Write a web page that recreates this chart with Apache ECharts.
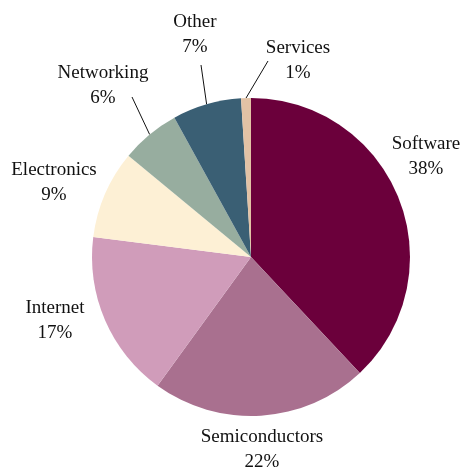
<!DOCTYPE html>
<html><head><meta charset="utf-8">
<script src="https://cdn.jsdelivr.net/npm/echarts@6/dist/echarts.min.js"></script>
<style>html,body{margin:0;padding:0;background:#fff}#c{width:467px;height:471px}</style>
</head><body><div id="c"></div>
<script>
const categories = ['Software','Semiconductors','Internet','Electronics','Networking','Other','Services'];
const values = [38, 22, 17, 9, 6, 7, 1];
const colors = ['#6b003b','#a9708f','#d09cba','#fdf0d5','#97ad9f','#3a5f74','#e2c2a5'];
const withLine = [false,false,false,false,true,true,true];

// label layout (pixel offsets from pie centre / from label centre) – presentation only
const CX = 251, CY = 257, R = 159;
const labelOffset = [[175,-100],[11,193],[-196,64],[-197,-74],[-148,-171],[-56,-222],[47,-196]];
const lineEndOffset = [null,null,null,null,[29,11],[6,30],[-30,0]];

const total = values.reduce((a,b)=>a+b,0);
const mids = []; let acc = 0;
values.forEach(v => { mids.push(Math.PI/2 - 2*Math.PI*(acc + v/2)/total); acc += v; });

const chart = echarts.init(document.getElementById('c'));
chart.setOption({
  animation:false,
  series:[{
    type:'pie',
    center:[CX,CY], radius:R,
    startAngle:90, clockwise:true,
    avoidLabelOverlap:false,
    data: categories.map((c,i)=>({name:c, value:values[i], itemStyle:{color:colors[i]},
      labelLine:{show:withLine[i]}})),
    label:{show:true, position:'outside', formatter:p=>p.name+'\n'+p.value+'%',
      fontFamily:'Liberation Serif', fontSize:19, lineHeight:25, color:'#111'},
    labelLine:{lineStyle:{color:'#111', width:1}, length:40, length2:0},
    emphasis:{disabled:true},
    labelLayout: function(p){
      const i = p.dataIndex, m = mids[i];
      const lx = CX + labelOffset[i][0], ly = CY + labelOffset[i][1];
      const out = {x: lx, y: ly, align:'center', verticalAlign:'middle'};
      if (withLine[i]) {
        const sx = CX + R*Math.cos(m), sy = CY - R*Math.sin(m);
        out.labelLinePoints = [[sx,sy],[lx+lineEndOffset[i][0], ly+lineEndOffset[i][1]]];
      }
      return out;
    }
  }]
});
</script></body></html>
